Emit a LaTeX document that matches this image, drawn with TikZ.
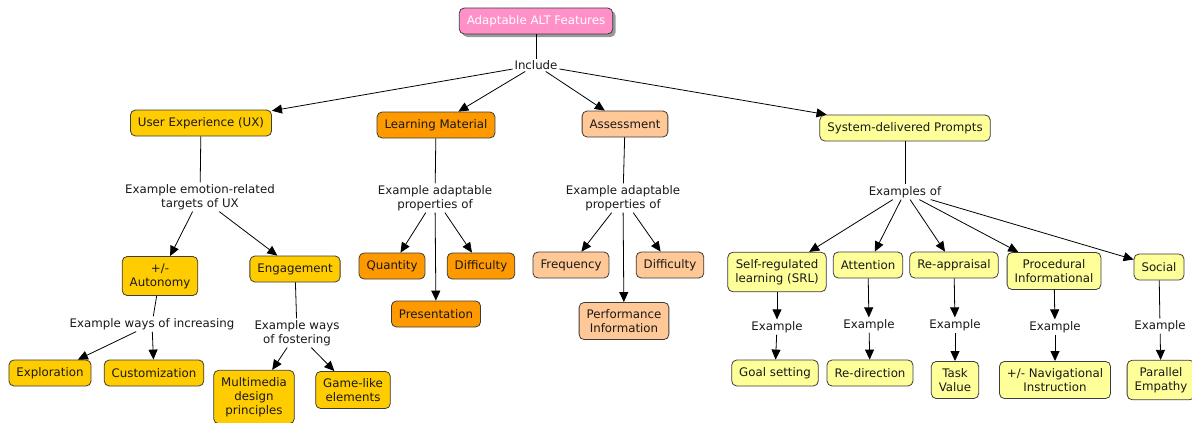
\documentclass[tikz,border=0pt]{standalone}
\usepackage{fontspec}
\setmainfont{DejaVu Sans}
\usetikzlibrary{arrows.meta,shadows}

\definecolor{rootpink}{RGB}{255,145,200}
\definecolor{uxgold}{RGB}{255,204,0}
\definecolor{lmorange}{RGB}{255,153,0}
\definecolor{aspeach}{RGB}{255,200,150}
\definecolor{sdyellow}{RGB}{255,255,153}
\definecolor{boxline}{RGB}{60,60,60}
\definecolor{inkgray}{RGB}{25,25,25}

\tikzset{
  concept/.style={draw=boxline, line width=0.8pt, rounded corners=5pt, align=center,
    inner xsep=7.5pt, inner ysep=7pt, minimum height=26pt, text=inkgray},
  rootbox/.style={concept, fill=rootpink, text=white,
    drop shadow={shadow xshift=3pt, shadow yshift=-3pt, fill=gray!80, opacity=1}},
  uxbox/.style={concept, fill=uxgold},
  lmbox/.style={concept, fill=lmorange},
  asbox/.style={concept, fill=aspeach},
  sdbox/.style={concept, fill=sdyellow},
  link/.style={fill=white, inner sep=1.5pt, align=center, text=inkgray}
}

\begin{document}
\begin{tikzpicture}[x=1pt, y=-1pt, >={Triangle[length=10pt,width=9pt]},
    line width=0.8pt, font=\fontsize{11.8}{14}\selectfont]
    \useasboundingbox (0,0) rectangle (1192,423);

    % Nodes {root, top level, linking phrases, leaves}
    \node [rootbox]  (root)    at (536,21)   {Adaptable ALT Features};
    \node [link]     (incl)    at (536,65)   {Include};

    \node [uxbox]    (ux)      at (201,123)  {User Experience (UX)};
    \node [lmbox]    (lm)      at (436,125)  {Learning Material};
    \node [asbox]    (asmt)    at (625,124)  {Assessment};
    \node [sdbox]    (sdp)     at (905,128)  {System-delivered Prompts};

    \node [link]     (uxlink)  at (200,197)  {Example emotion-related\\targets of UX};
    \node [uxbox]    (auton)   at (160,276)  {+/-\\Autonomy};
    \node [uxbox]    (engag)   at (295,269)  {Engagement};
    \node [link]     (autlink) at (152,324)  {Example ways of increasing};
    \node [link]     (englink) at (297,333)  {Example ways\\of fostering};
    \node [uxbox]    (explor)  at (50,373)   {Exploration};
    \node [uxbox]    (custom)  at (154,373)  {Customization};
    \node [uxbox]    (multim)  at (254,397)  {Multimedia\\design\\principles};
    \node [uxbox]    (gamel)   at (353,390)  {Game-like\\elements};

    \node [link]     (lmlink)  at (435,198)  {Example adaptable\\properties of};
    \node [lmbox]    (quant)   at (392,266)  {Quantity};
    \node [lmbox]    (diffa)   at (481,266)  {Difficulty};
    \node [lmbox]    (present) at (436,314)  {Presentation};

    \node [link]     (aslink)  at (623,198)  {Example adaptable\\properties of};
    \node [asbox]    (freq)    at (571,265)  {Frequency};
    \node [asbox]    (diffb)   at (670,265)  {Difficulty};
    \node [asbox]    (perf)    at (624,321)  {Performance\\Information};

    \node [link]     (exof)    at (905,192)  {Examples of};
    \node [sdbox]    (srl)     at (777,272)  {Self-regulated\\learning (SRL)};
    \node [sdbox]    (attn)    at (868,265)  {Attention};
    \node [sdbox]    (reapp)   at (954,265)  {Re-appraisal};
    \node [sdbox]    (procinf) at (1054,271) {Procedural\\Informational};
    \node [sdbox]    (social)  at (1159,267) {Social};

    \node [link]     (exsrl)   at (777,327)  {Example};
    \node [link]     (exattn)  at (869,325)  {Example};
    \node [link]     (exreapp) at (955,325)  {Example};
    \node [link]     (exproc)  at (1055,327) {Example};
    \node [link]     (exsoc)   at (1160,326) {Example};

    \node [sdbox]    (goal)    at (775,373)  {Goal setting};
    \node [sdbox]    (redir)   at (870,373)  {Re-direction};
    \node [sdbox]    (taskv)   at (955,380)  {Task\\Value};
    \node [sdbox]    (navig)   at (1055,380) {+/- Navigational\\Instruction};
    \node [sdbox]    (parall)  at (1161,380) {Parallel\\Empathy};

    % Paths
    \path       (root)    edge (incl);
    \path [->]  (incl)    edge (ux);
    \path [->]  (incl)    edge (lm);
    \path [->]  (incl)    edge (asmt);
    \path [->]  (incl)    edge (sdp);

    \path       (ux)      edge (uxlink);
    \path [->]  (uxlink)  edge (auton);
    \path [->]  (uxlink)  edge (engag);
    \path       (auton)   edge (autlink);
    \path [->]  (autlink) edge (explor);
    \path [->]  (autlink) edge (custom);
    \path       (engag)   edge (englink);
    \path [->]  (englink) edge (multim);
    \path [->]  (englink) edge (gamel);

    \path       (lm)      edge (lmlink);
    \path [->]  (lmlink)  edge (quant);
    \path [->]  (lmlink)  edge (diffa);
    \path [->]  (lmlink)  edge (present);

    \path       (asmt)    edge (aslink);
    \path [->]  (aslink)  edge (freq);
    \path [->]  (aslink)  edge (diffb);
    \path [->]  (aslink)  edge (perf);

    \path       (sdp)     edge (exof);
    \path [->]  (exof)    edge (srl);
    \path [->]  (exof)    edge (attn);
    \path [->]  (exof)    edge (reapp);
    \path [->]  (exof)    edge (procinf);
    \path [->]  (exof)    edge (social);

    \path [->]  (srl)     edge (exsrl);
    \path [->]  (exsrl)   edge (goal);
    \path [->]  (attn)    edge (exattn);
    \path [->]  (exattn)  edge (redir);
    \path [->]  (reapp)   edge (exreapp);
    \path [->]  (exreapp) edge (taskv);
    \path [->]  (procinf) edge (exproc);
    \path [->]  (exproc)  edge (navig);
    \path       (social)  edge (exsoc);
    \path [->]  (exsoc)   edge (parall);

\end{tikzpicture}
\end{document}
